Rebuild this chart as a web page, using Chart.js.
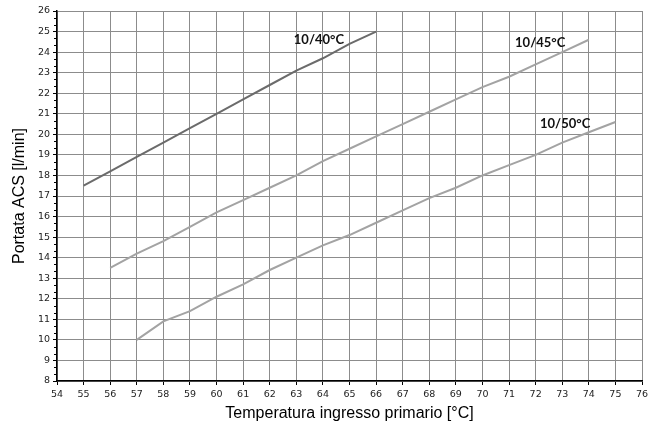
<!DOCTYPE html>
<html>
<head>
<meta charset="utf-8">
<script src="https://cdn.jsdelivr.net/npm/chart.js@4"></script>
<style>
  html, body { margin: 0; padding: 0; background: #fff; }
  #wrap { width: 657px; height: 428px; position: relative; }
</style>
</head>
<body>
<div id="wrap"><canvas id="c"></canvas></div>
<script>
const temps40 = [55, 56, 57, 58, 59, 60, 61, 62, 63, 64, 65, 66];
const flow40  = [17.5, 18.2, 18.9, 19.6, 20.3, 21.0, 21.7, 22.4, 23.1, 23.7, 24.4, 25.0];
const temps45 = [56, 57, 58, 59, 60, 61, 62, 63, 64, 65, 66, 67, 68, 69, 70, 71, 72, 73, 74];
const flow45  = [13.5, 14.2, 14.8, 15.5, 16.2, 16.8, 17.4, 18.0, 18.7, 19.3, 19.9, 20.5, 21.1, 21.7, 22.3, 22.8, 23.4, 24.0, 24.6];
const temps50 = [57, 58, 59, 60, 61, 62, 63, 64, 65, 66, 67, 68, 69, 70, 71, 72, 73, 74, 75];
const flow50  = [10.0, 10.9, 11.4, 12.1, 12.7, 13.4, 14.0, 14.6, 15.1, 15.7, 16.3, 16.9, 17.4, 18.0, 18.5, 19.0, 19.6, 20.1, 20.6];
const seriesNames = ["10/40°C", "10/45°C", "10/50°C"];
const labelAnchors = [[63.85, 24.6], [72.17, 24.44], [73.11, 20.5]];
const xTitle = "Temperatura ingresso primario [°C]";
const yTitle = "Portata ACS [l/min]";

const toPts = (xs, ys) => xs.map((x, i) => ({ x: x, y: ys[i] }));

const seriesLabels = {
  id: 'seriesLabels',
  afterDatasetsDraw(chart) {
    const ctx = chart.ctx;
    const xs = chart.scales.x, ys = chart.scales.y;
    ctx.save();
    ctx.font = 'bold 13px Lato, "Open Sans", sans-serif';
    ctx.fillStyle = '#111';
    ctx.textAlign = 'center';
    ctx.textBaseline = 'middle';
    seriesNames.forEach((n, i) => {
      ctx.fillText(n, xs.getPixelForValue(labelAnchors[i][0]), ys.getPixelForValue(labelAnchors[i][1]));
    });
    ctx.restore();
  }
};

const minorTicks = {
  id: 'minorTicks',
  afterDraw(chart) {
    const ctx = chart.ctx;
    const ys = chart.scales.y;
    const left = chart.chartArea.left;
    ctx.save();
    ctx.strokeStyle = '#000';
    ctx.lineWidth = 1;
    for (let v = ys.min; v < ys.max; v += 1) {
      [0.33, 0.67].forEach(f => {
        const y = Math.round(ys.getPixelForValue(v + f)) + 0.5;
        ctx.beginPath();
        ctx.moveTo(left - 3, y);
        ctx.lineTo(left, y);
        ctx.stroke();
      });
    }
    ctx.restore();
  }
};

new Chart(document.getElementById('c'), {
  type: 'line',
  data: {
    datasets: [
      { label: seriesNames[0], data: toPts(temps40, flow40), borderColor: '#6b6b6b', borderWidth: 2, pointRadius: 0, tension: 0, fill: false },
      { label: seriesNames[1], data: toPts(temps45, flow45), borderColor: '#a3a3a3', borderWidth: 2, pointRadius: 0, tension: 0, fill: false },
      { label: seriesNames[2], data: toPts(temps50, flow50), borderColor: '#a3a3a3', borderWidth: 2, pointRadius: 0, tension: 0, fill: false }
    ]
  },
  options: {
    responsive: true,
    maintainAspectRatio: false,
    animation: false,
    layout: { padding: { left: 0, right: 15, top: 11, bottom: 0 } },
    plugins: { legend: { display: false }, tooltip: { enabled: false } },
    scales: {
      x: {
        type: 'linear', min: 54, max: 76,
        ticks: { stepSize: 1, color: '#222', font: { family: 'Tahoma, "DejaVu Sans", sans-serif', size: 9.5 }, maxRotation: 0, padding: 4 },
        grid: { color: '#8c8c8c', lineWidth: 1, tickLength: 4, tickColor: '#000' },
        border: { color: '#000', width: 1.5 },
        title: { display: true, text: xTitle, color: '#000', font: { family: '"Liberation Sans", Arial, sans-serif', size: 16 }, padding: { top: 2, bottom: 5 } },
        afterFit(s) { s.height = 47; }
      },
      y: {
        type: 'linear', min: 8, max: 26,
        ticks: { stepSize: 1, color: '#222', font: { family: 'Tahoma, "DejaVu Sans", sans-serif', size: 9.5 }, padding: 3 },
        grid: { color: '#8c8c8c', lineWidth: 1, tickLength: 4, tickColor: '#000' },
        border: { color: '#000', width: 1.5 },
        title: { display: true, text: yTitle, color: '#000', font: { family: '"Liberation Sans", Arial, sans-serif', size: 16 }, padding: { top: 10, bottom: 6 } },
        afterFit(s) { s.width = 57; }
      }
    }
  },
  plugins: [seriesLabels, minorTicks]
});
</script>
</body>
</html>
